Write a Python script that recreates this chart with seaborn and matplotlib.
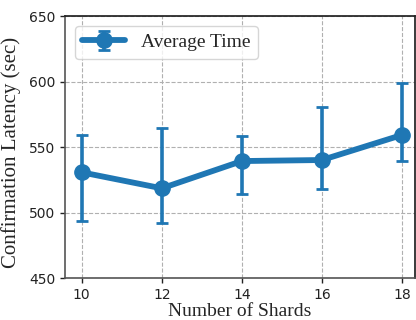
import matplotlib
matplotlib.use("Agg")
import matplotlib.pyplot as plt
import seaborn as sns
import numpy as np

shards = [10, 12, 14, 16, 18]
avg_time = [530.7, 518.5, 539.3, 540.1, 559.2]
upper = [559.2, 564.7, 558.1, 580.8, 599.1]
lower = [493.7, 491.7, 514.1, 517.9, 539.6]

sns.set_theme(style="ticks")
plt.rcParams["font.family"] = ["DejaVu Sans"]

fig = plt.figure(figsize=(4.16, 3.2), dpi=100)
ax = fig.add_axes([0.156, 0.131, 0.842, 0.819])

mean = np.array(avg_time)
yerr = [mean - np.array(lower), np.array(upper) - mean]
color = "#1f77b4"
ax.errorbar(shards, avg_time, yerr=yerr, fmt="-o", color=color, lw=4.2,
            markersize=11, elinewidth=2.6, capsize=4, capthick=2,
            label="Average Time")

ax.set_xlim(9.58, 18.33)
ax.set_ylim(450, 650)
ax.set_xticks(shards)
ax.set_yticks([450, 500, 550, 600, 650])
ax.tick_params(labelsize=10, length=3.5, width=1, colors="#222222")
ax.grid(True, linestyle="--", color="#b0b0b0", linewidth=0.8)

serif = ["Liberation Serif", "DejaVu Serif"]
ax.set_xlabel("Number of Shards", fontsize=14, family=serif, labelpad=1)
ax.set_ylabel("Confirmation Latency (sec)", fontsize=15, family=serif, labelpad=3)
ax.yaxis.set_label_coords(-0.125, 0.48)

for side in ["left", "bottom"]:
    ax.spines[side].set_color("#555555")
    ax.spines[side].set_linewidth(1.2)
for side in ["top", "right"]:
    ax.spines[side].set_color("#222222")

leg = ax.legend(loc="upper left", prop={"family": serif, "size": 14},
                frameon=True, handlelength=2.2, borderaxespad=0.5)
leg.get_frame().set_edgecolor("#cccccc")

fig.savefig("out.png", dpi=100)
